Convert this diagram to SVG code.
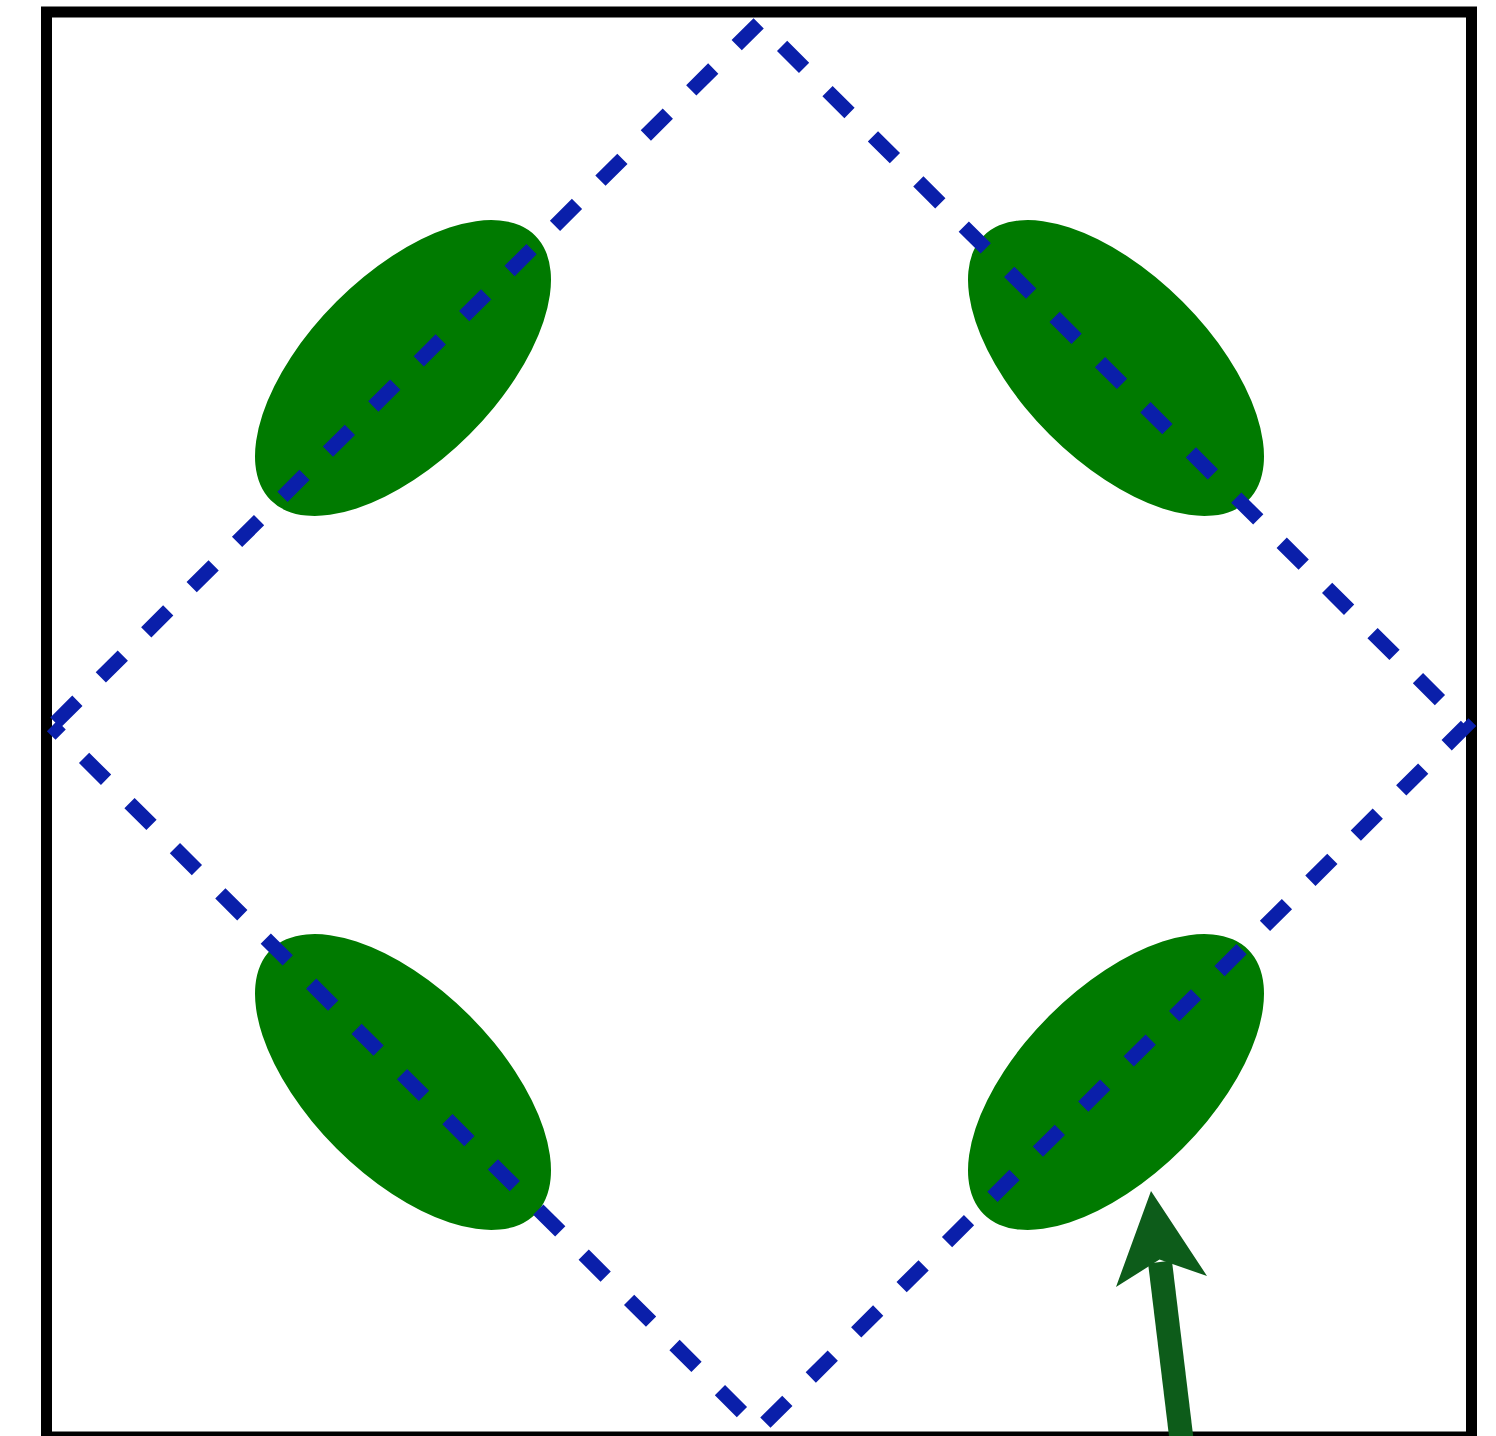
<svg xmlns="http://www.w3.org/2000/svg" width="1496" height="1436" viewBox="0 0 1496 1436">
  <style>
    .frame { fill: #ffffff; stroke: #000000; stroke-width: 11; }
    .leaf { fill: #007a00; }
    .diamond { fill: none; stroke: #0a1faa; stroke-width: 14.5; stroke-dasharray: 31 33.05; stroke-dashoffset: -4.8; stroke-linejoin: miter; }
    .arrow-shaft { stroke: #0d5c1a; stroke-width: 24; fill: none; }
    .arrow-head { fill: #0d5c1a; }
  </style>
  <rect width="1496" height="1436" fill="#ffffff"/>
  <g id="frame">
    <rect class="frame" x="46.5" y="12" width="1425" height="1425"/>
  </g>
  <g id="leaf-top-left">
    <ellipse class="leaf" cx="403" cy="368" rx="187" ry="94" transform="rotate(-45 403 368)"/>
  </g>
  <g id="leaf-top-right">
    <ellipse class="leaf" cx="1116" cy="368" rx="187" ry="94" transform="rotate(45 1116 368)"/>
  </g>
  <g id="leaf-bottom-left">
    <ellipse class="leaf" cx="403" cy="1082" rx="187" ry="94" transform="rotate(45 403 1082)"/>
  </g>
  <g id="leaf-bottom-right">
    <ellipse class="leaf" cx="1116" cy="1082" rx="187" ry="94" transform="rotate(-45 1116 1082)"/>
  </g>
  <g id="connectors">
    <path class="diamond" d="M52,726 L759,23 L1466,726 L759,1429 Z"/>
    <line class="arrow-shaft" x1="1184" y1="1460" x2="1160" y2="1262"/>
    <polygon class="arrow-head" points="1151,1191 1207,1276 1159.5,1259.6 1116,1287"/>
  </g>
</svg>
